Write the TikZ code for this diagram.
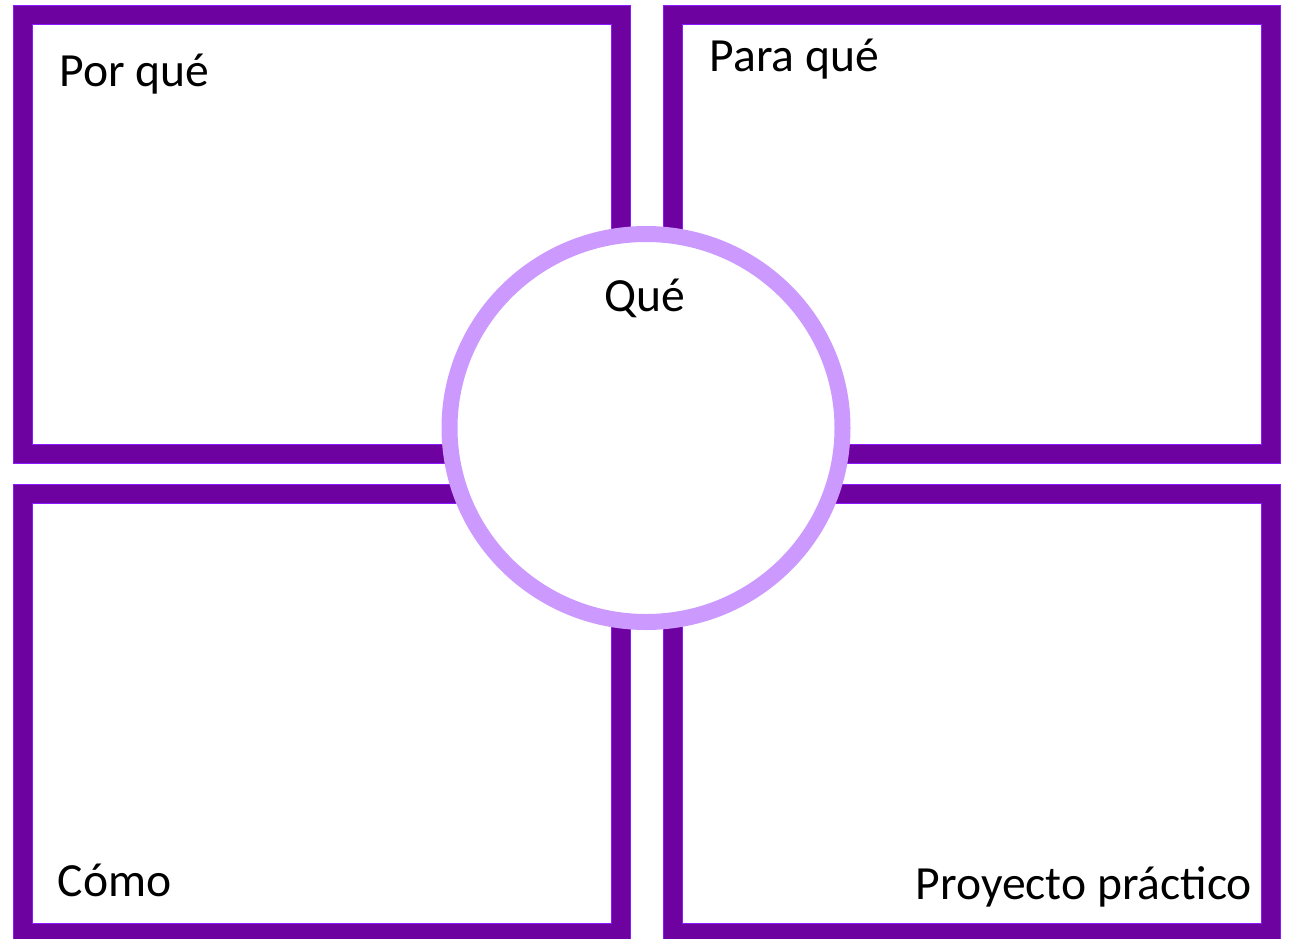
\documentclass[tikz,border=0pt]{standalone}
\usepackage{fontspec}
\setmainfont{Carlito}
\definecolor{boxdark}{HTML}{6E02A0}
\definecolor{boxedge}{HTML}{8A1AFF}
\definecolor{ringcol}{HTML}{CC99FF}
\tikzset{
  panel/.style={draw=boxedge, line width=20pt},
  panelin/.style={draw=boxdark, line width=18pt},
  ring/.style={draw=ringcol, line width=16pt, fill=white},
  lbl/.style={anchor=base west, inner sep=0pt, font=\fontsize{47.6}{51}\selectfont, text=black}
}
\begin{document}
\begin{tikzpicture}[x=1pt,y=-1pt]
\useasboundingbox (0,0) rectangle (1291,938);
\fill[white] (0,0) rectangle (1291,938);
% panels
\foreach \xa/\ya/\xb/\yb in {23/15/621/454, 673/15/1271/454, 23/493.5/621/933, 673/493.5/1271/933}{
  \draw[panel] (\xa,\ya) rectangle (\xb,\yb);
  \draw[panelin] (\xa,\ya) rectangle (\xb,\yb);
}
% central ring
\draw[ring] (646,428) ellipse [x radius=196.5, y radius=194];
% labels
\node[lbl] (porque) at (59.5,86) {Por qué};
\node[lbl] (paraque) at (709.5,71) {Para qué};
\node[lbl] (que) at (604.5,311) {Qué};
\node[lbl] (como) at (57.5,896) {Cómo};
\node[lbl] (proyecto) at (915.5,899) {Proyecto práctico};
\end{tikzpicture}
\end{document}
